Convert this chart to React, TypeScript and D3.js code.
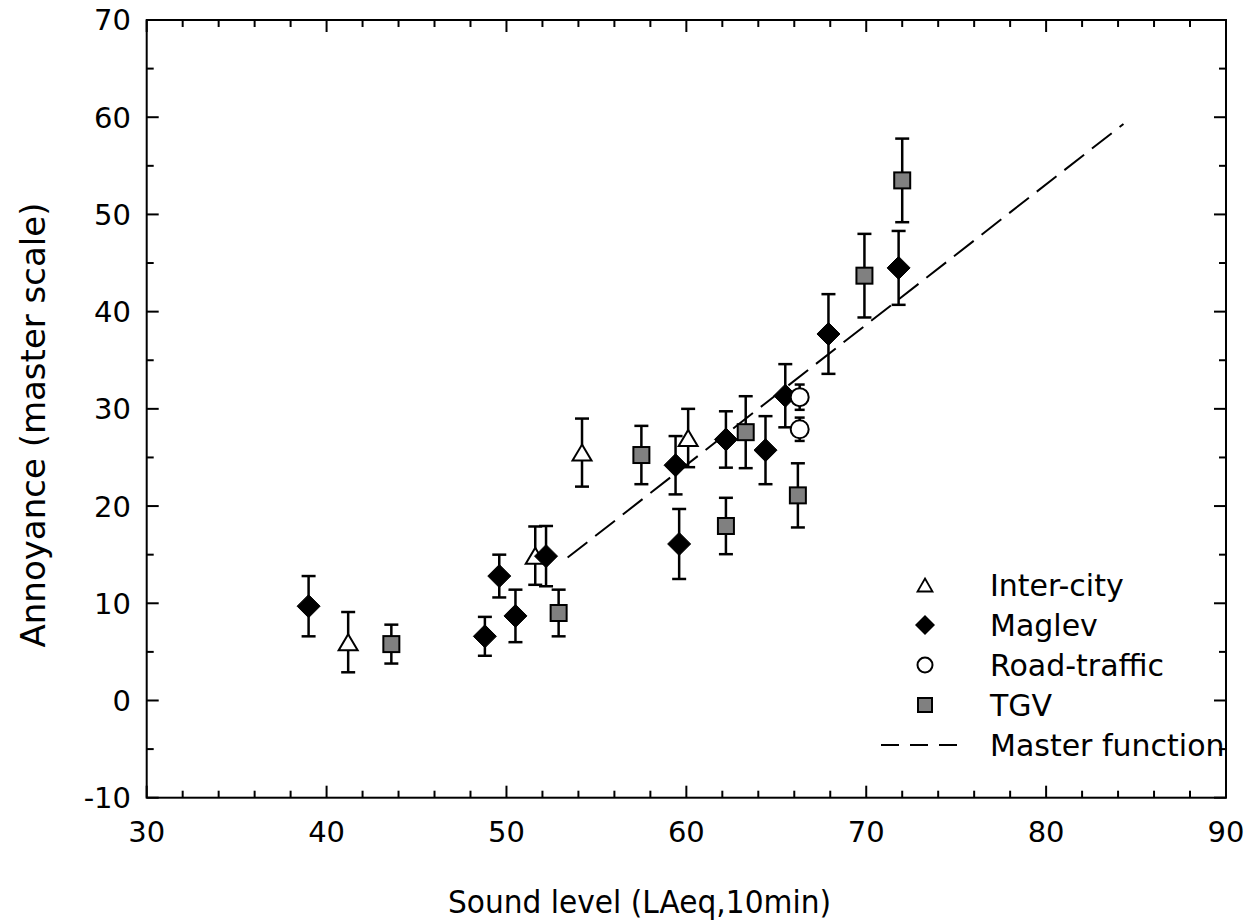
import React from "react";
import * as d3 from "d3";

const interCityX = [41.2, 51.6, 54.2, 60.1];
const interCityY = [6.0, 14.9, 25.5, 27.0];
const interCityErr = [3.1, 3.0, 3.5, 3.0];

const maglevX = [39.0, 48.8, 49.6, 50.5, 52.2, 59.4, 59.6, 62.2, 64.4, 65.5, 67.9, 71.8];
const maglevY = [9.7, 6.6, 12.8, 8.7, 14.85, 24.2, 16.1, 26.85, 25.75, 31.35, 37.7, 44.5];
const maglevErr = [3.1, 2.0, 2.2, 2.7, 3.1, 3.0, 3.6, 2.9, 3.5, 3.25, 4.1, 3.8];

const roadX = [66.3, 66.3];
const roadY = [31.2, 27.9];
const roadErr = [1.3, 1.2];

const tgvX = [43.6, 52.9, 57.5, 62.2, 63.3, 66.2, 69.9, 72.0];
const tgvY = [5.8, 9.0, 25.25, 17.95, 27.6, 21.1, 43.7, 53.5];
const tgvErr = [2.0, 2.4, 3.0, 2.9, 3.7, 3.3, 4.3, 4.3];

const masterX = [53.4, 84.3];
const masterY = [14.7, 59.3];

const xTicks = [30, 40, 50, 60, 70, 80, 90];
const yTicks = [-10, 0, 10, 20, 30, 40, 50, 60, 70];

const legendLabels = ["Inter-city", "Maglev", "Road-traffic", "TGV", "Master function"];

const FONT = "'DejaVu Sans', Verdana, sans-serif";

const L = 146.7, R = 1226, T = 20, B = 797.7;

type Pt = { x: number; y: number; e: number };
const zip = (xs: number[], ys: number[], es: number[]): Pt[] =>
  xs.map((x, i) => ({ x, y: ys[i], e: es[i] }));

export default function App() {
  const x = d3.scaleLinear().domain([30, 90]).range([L, R]);
  const y = d3.scaleLinear().domain([-10, 70]).range([B, T]);

  const xMinor = d3.range(30, 90.01, 2);
  const yMinor = d3.range(-10, 70.01, 5);

  const sets = {
    inter: zip(interCityX, interCityY, interCityErr),
    maglev: zip(maglevX, maglevY, maglevErr),
    road: zip(roadX, roadY, roadErr),
    tgv: zip(tgvX, tgvY, tgvErr),
  };

  const errBars = (pts: Pt[], cap: number, key: string) =>
    pts.map((p, i) => {
      const cx = x(p.x);
      const y1 = y(p.y + p.e);
      const y2 = y(p.y - p.e);
      return (
        <g key={key + i} stroke="#000" strokeWidth={2.5} fill="none">
          <line x1={cx} x2={cx} y1={y1} y2={y2} />
          <line x1={cx - cap} x2={cx + cap} y1={y1} y2={y1} />
          <line x1={cx - cap} x2={cx + cap} y1={y2} y2={y2} />
        </g>
      );
    });

  const tri = (cx: number, cy: number, w: number, h: number) =>
    `M${cx},${cy - h / 2}L${cx + w / 2},${cy + h / 2}L${cx - w / 2},${cy + h / 2}Z`;
  const dia = (cx: number, cy: number, r: number) =>
    `M${cx},${cy - r}L${cx + r},${cy}L${cx},${cy + r}L${cx - r},${cy}Z`;

  const line = d3
    .line<number>()
    .x((d) => x(d))
    .y((_, i) => y(masterY[i]));

  const legX = 925;
  const legTextX = 990;
  const legY0 = 585;
  const legDy = 40;

  return (
    <svg
      width={1250}
      height={922}
      style={{ position: "absolute", left: 0, top: 0, background: "#fff" }}
      fontFamily={FONT}
    >
      <rect x={0} y={0} width={1250} height={922} fill="#fff" />
      {/* ticks */}
      <g stroke="#000" strokeWidth={2}>
        {xMinor.map((v) => {
          const major = v % 10 === 0;
          const len = major ? 12 : 7;
          return (
            <g key={"xt" + v}>
              <line x1={x(v)} x2={x(v)} y1={B} y2={B - len} />
              <line x1={x(v)} x2={x(v)} y1={T} y2={T + len} />
            </g>
          );
        })}
        {yMinor.map((v) => {
          const major = v % 10 === 0;
          const len = major ? 12 : 7;
          return (
            <g key={"yt" + v}>
              <line x1={L} x2={L + len} y1={y(v)} y2={y(v)} />
              <line x1={R} x2={R - len} y1={y(v)} y2={y(v)} />
            </g>
          );
        })}
      </g>
      {/* tick labels */}
      <g fontSize={29} fill="#000">
        {xTicks.map((v) => (
          <text key={"xl" + v} x={x(v)} y={842} textAnchor="middle">
            {v}
          </text>
        ))}
        {yTicks.map((v) => (
          <text key={"yl" + v} x={131} y={y(v)} dy="0.36em" textAnchor="end">
            {v}
          </text>
        ))}
      </g>
      {/* titles */}
      <text
        x={448}
        y={913}
        fontSize={32}
        fill="#000"
        textLength={383}
        lengthAdjust="spacingAndGlyphs"
      >
        Sound level (LAeq,10min)
      </text>
      <text
        transform={`translate(45,425) rotate(-90)`}
        textAnchor="middle"
        fontSize={34}
        fill="#000"
      >
        Annoyance (master scale)
      </text>

      {/* master function */}
      <path d={line(masterX) || ""} fill="none" stroke="#000" strokeWidth={2} strokeDasharray="25,10" />

      {/* error bars */}
      {errBars(sets.inter, 7, "ie")}
      {errBars(sets.maglev, 7, "me")}
      {errBars(sets.road, 5, "re")}
      {errBars(sets.tgv, 7, "te")}

      {/* markers */}
      {sets.inter.map((p, i) => (
        <path key={"im" + i} d={tri(x(p.x), y(p.y), 19, 16)} fill="#fff" stroke="#000" strokeWidth={2} />
      ))}
      {sets.maglev.map((p, i) => (
        <path key={"mm" + i} d={dia(x(p.x), y(p.y), 11.5)} fill="#000" stroke="#000" strokeWidth={1} />
      ))}
      {sets.road.map((p, i) => (
        <circle key={"rm" + i} cx={x(p.x)} cy={y(p.y)} r={9} fill="#fff" stroke="#000" strokeWidth={2} />
      ))}
      {sets.tgv.map((p, i) => (
        <rect
          key={"tm" + i}
          x={x(p.x) - 8}
          y={y(p.y) - 8}
          width={16}
          height={16}
          fill="#808080"
          stroke="#000"
          strokeWidth={2}
        />
      ))}

      {/* legend */}
      <g fontSize={30} fill="#000">
        {legendLabels.map((lab, i) => (
          <text key={"lg" + i} x={legTextX} y={legY0 + i * legDy} dy="0.36em">
            {lab}
          </text>
        ))}
      </g>
      <path d={tri(legX, legY0, 15, 13)} fill="#fff" stroke="#000" strokeWidth={1.8} />
      <path d={dia(legX, legY0 + legDy, 10)} fill="#000" />
      <circle cx={legX} cy={legY0 + 2 * legDy} r={7.5} fill="#fff" stroke="#000" strokeWidth={2} />
      <rect x={legX - 7} y={legY0 + 3 * legDy - 7} width={14} height={14} fill="#808080" stroke="#000" strokeWidth={2} />
      <line
        x1={881}
        x2={958}
        y1={legY0 + 4 * legDy}
        y2={legY0 + 4 * legDy}
        stroke="#000"
        strokeWidth={2}
        strokeDasharray="18,11"
      />

      {/* frame */}
      <rect x={L} y={T} width={R - L} height={B - T} fill="none" stroke="#000" strokeWidth={2} />
    </svg>
  );
}
